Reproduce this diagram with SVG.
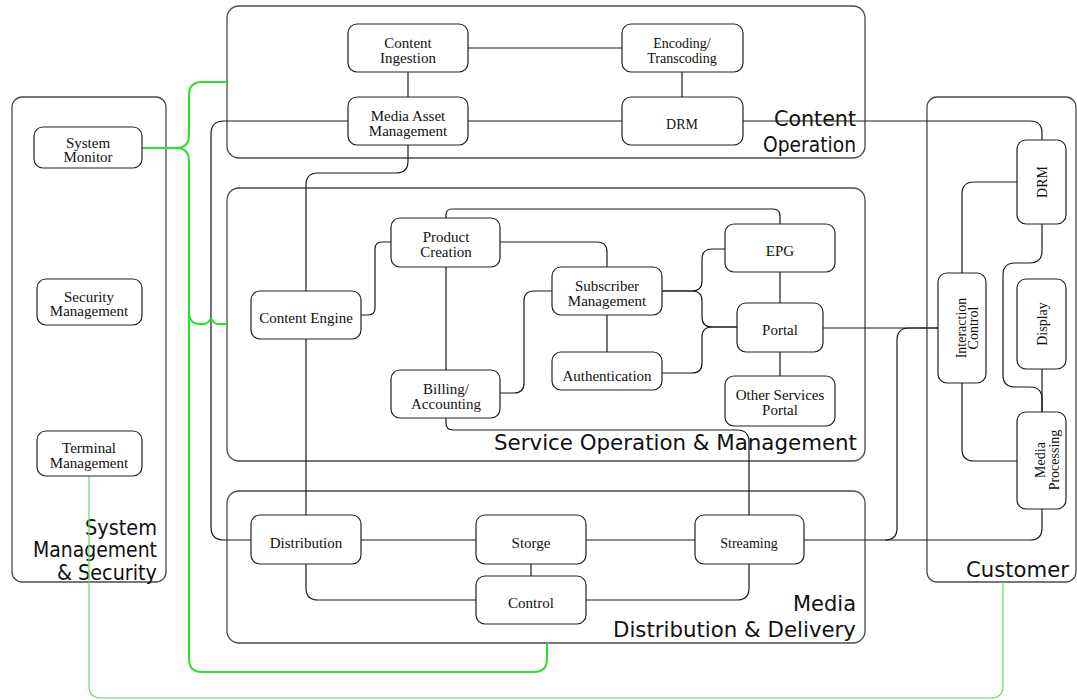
<svg xmlns="http://www.w3.org/2000/svg" width="1077" height="700" viewBox="0 0 1077 700">
  <style>
    .area { fill: none; stroke: #4a4a4a; stroke-width: 1.3; }
    .box { fill: none; stroke: #222; stroke-width: 1.2; }
    .lbl { font-family: "Liberation Serif", "Times New Roman", serif; font-size: 15px; fill: #111; text-anchor: middle; }
    .small { font-size: 14px; }
    .title { font-family: "DejaVu Sans", Verdana, sans-serif; font-size: 21px; fill: #111; text-anchor: end; }
    .link { fill: none; stroke: #1a1a1a; stroke-width: 1.2; }
    .mgmt { fill: none; stroke: #2ee02e; stroke-width: 2; }
    .mgmt-thin { fill: none; stroke: #5ee05e; stroke-width: 1.2; }
  </style>

  <rect width="1077" height="700" fill="#ffffff"/>

  <!-- domain areas -->
  <g id="area-system">
    <rect class="area" x="12" y="97" width="154" height="485" rx="10"/>
    <text class="title" font-size="19" x="157" y="535" textLength="72" lengthAdjust="spacingAndGlyphs">System</text>
    <text class="title" font-size="19" x="157" y="557" textLength="124" lengthAdjust="spacingAndGlyphs">Management</text>
    <text class="title" font-size="19" x="157" y="580" textLength="100" lengthAdjust="spacingAndGlyphs">&amp; Security</text>
  </g>
  <g id="area-content">
    <rect class="area" x="227" y="6" width="638" height="152" rx="12"/>
    <text class="title" font-size="20" x="856" y="126" textLength="82" lengthAdjust="spacingAndGlyphs">Content</text>
    <text class="title" font-size="20" x="856" y="152" textLength="93" lengthAdjust="spacingAndGlyphs">Operation</text>
  </g>
  <g id="area-service">
    <rect class="area" x="227" y="188" width="638" height="273" rx="12"/>
    <text class="title" x="857" y="450" textLength="363" lengthAdjust="spacingAndGlyphs">Service Operation &amp; Management</text>
  </g>
  <g id="area-media">
    <rect class="area" x="227" y="491" width="638" height="152" rx="12"/>
    <text class="title" x="856" y="611" textLength="63" lengthAdjust="spacingAndGlyphs">Media</text>
    <text class="title" x="856" y="637" textLength="243" lengthAdjust="spacingAndGlyphs">Distribution &amp; Delivery</text>
  </g>
  <g id="area-customer">
    <rect class="area" x="927" y="97" width="149" height="485" rx="10"/>
    <text class="title" x="1069" y="577" textLength="103" lengthAdjust="spacingAndGlyphs">Customer</text>
  </g>

  <!-- connectors -->
  <g id="connectors">
    <!-- content operation -->
    <path class="link" d="M468,48 H622"/>
    <path class="link" d="M408,72 V97"/>
    <path class="link" d="M682,72 V97"/>
    <path class="link" d="M468,121 H622"/>
    <path class="link" d="M348,121 H224 Q211,121 211,134 V527 Q211,540 224,540 H251"/>
    <path class="link" d="M743,121 H1030 Q1042,121 1042,133 V140"/>
    <path class="link" d="M408,145 V161 Q408,173 396,173 H318 Q306,173 306,185 V291"/>
    <!-- service operation -->
    <path class="link" d="M306,339 V515"/>
    <path class="link" d="M361,315 H368 Q375,315 375,308 V249 Q375,242 382,242 H391"/>
    <path class="link" d="M446,267 V370"/>
    <path class="link" d="M446,218 V215 Q446,209 452,209 H773 Q780,209 780,216 V224"/>
    <path class="link" d="M500,242 H597 Q607,242 607,252 V267"/>
    <path class="link" d="M500,393 H514 Q524,393 524,383 V301 Q524,291 534,291 H552"/>
    <path class="link" d="M607,315 V352"/>
    <path class="link" d="M662,291 H692 Q702,291 702,281 V259 Q702,249 712,249 H725"/>
    <path class="link" d="M662,291 H692 Q702,291 702,301 V317 Q702,327 712,327 H737"/>
    <path class="link" d="M662,373 H692 Q702,373 702,363 V337 Q702,327 712,327 H737"/>
    <path class="link" d="M780,272 V303"/>
    <path class="link" d="M780,352 V376"/>
    <path class="link" d="M823,328 H938"/>
    <path class="link" d="M446,418 V423 Q446,430 453,430 H737 Q749,430 749,442 V515"/>
    <!-- media distribution -->
    <path class="link" d="M361,540 H476"/>
    <path class="link" d="M586,540 H695"/>
    <path class="link" d="M531,564 V576"/>
    <path class="link" d="M306,564 V588 Q306,600 318,600 H476"/>
    <path class="link" d="M586,600 H737 Q749,600 749,588 V564"/>
    <path class="link" d="M804,540 H1030 Q1042,540 1042,528 V509"/>
    <path class="link" d="M885,540 Q897,540 897,528 V340 Q897,328 909,328 H938"/>
    <!-- customer -->
    <path class="link" d="M962,273 V194 Q962,182 974,182 H1017"/>
    <path class="link" d="M962,383 V449 Q962,461 974,461 H1017"/>
    <path class="link" d="M1042,224 V251 Q1042,263 1030,263 H1015 Q1003,263 1003,275 V375 Q1003,387 1015,387 H1030 Q1042,387 1042,399 V412"/>
    <path class="link" d="M1042,369 V412"/>
    <!-- management links -->
    <path class="mgmt" d="M142,148 H176 Q189,148 189,135 V95 Q189,82 202,82 H227"/>
    <path class="mgmt" d="M176,148 Q189,148 189,161 V659 Q189,672 202,672 H534 Q547,672 547,659 V643"/>
    <path class="mgmt" d="M189,312 Q189,324 200,324 H204 Q207,324 209,321 Q211,318 213,321 Q215,324 218,324 H227"/>
    <path class="mgmt-thin" d="M89,476 V686 Q89,698 101,698 H991 Q1003,698 1003,686 V582"/>
  </g>

  <!-- system management & security -->
  <g id="system-monitor">
    <rect class="box" x="34" y="127" width="108" height="41" rx="9"/>
    <text class="lbl" x="88" y="148">System</text>
    <text class="lbl" x="88" y="162">Monitor</text>
  </g>
  <g id="security-management">
    <rect class="box" x="37" y="279" width="105" height="46" rx="9"/>
    <text class="lbl" x="89" y="302">Security</text>
    <text class="lbl" x="89" y="316">Management</text>
  </g>
  <g id="terminal-management">
    <rect class="box" x="37" y="431" width="105" height="45" rx="9"/>
    <text class="lbl" x="89" y="453">Terminal</text>
    <text class="lbl" x="89" y="468">Management</text>
  </g>

  <!-- content operation -->
  <g id="content-ingestion">
    <rect class="box" x="348" y="24" width="120" height="48" rx="9"/>
    <text class="lbl" x="408" y="48">Content</text>
    <text class="lbl" x="408" y="63">Ingestion</text>
  </g>
  <g id="encoding-transcoding">
    <rect class="box" x="622" y="24" width="121" height="48" rx="9"/>
    <text class="lbl small" x="682" y="48">Encoding/</text>
    <text class="lbl small" x="682" y="63">Transcoding</text>
  </g>
  <g id="media-asset-management">
    <rect class="box" x="348" y="97" width="120" height="48" rx="9"/>
    <text class="lbl" x="408" y="121">Media Asset</text>
    <text class="lbl" x="408" y="136">Management</text>
  </g>
  <g id="drm-content">
    <rect class="box" x="622" y="97" width="121" height="48" rx="9"/>
    <text class="lbl small" x="682" y="129">DRM</text>
  </g>

  <!-- service operation & management -->
  <g id="content-engine">
    <rect class="box" x="251" y="291" width="110" height="48" rx="9"/>
    <text class="lbl" x="306" y="323">Content Engine</text>
  </g>
  <g id="product-creation">
    <rect class="box" x="391" y="218" width="109" height="49" rx="9"/>
    <text class="lbl" x="446" y="242">Product</text>
    <text class="lbl" x="446" y="257">Creation</text>
  </g>
  <g id="billing-accounting">
    <rect class="box" x="391" y="370" width="109" height="48" rx="9"/>
    <text class="lbl" x="446" y="394">Billing/</text>
    <text class="lbl" x="446" y="409">Accounting</text>
  </g>
  <g id="subscriber-management">
    <rect class="box" x="552" y="267" width="110" height="48" rx="9"/>
    <text class="lbl" x="607" y="291">Subscriber</text>
    <text class="lbl" x="607" y="306">Management</text>
  </g>
  <g id="authentication">
    <rect class="box" x="552" y="352" width="110" height="38" rx="9"/>
    <text class="lbl" x="607" y="381">Authentication</text>
  </g>
  <g id="epg">
    <rect class="box" x="725" y="224" width="110" height="48" rx="9"/>
    <text class="lbl" x="780" y="256">EPG</text>
  </g>
  <g id="portal">
    <rect class="box" x="737" y="303" width="86" height="49" rx="9"/>
    <text class="lbl" x="780" y="335">Portal</text>
  </g>
  <g id="other-services-portal">
    <rect class="box" x="725" y="376" width="110" height="50" rx="9"/>
    <text class="lbl" x="780" y="400">Other Services</text>
    <text class="lbl" x="780" y="415">Portal</text>
  </g>

  <!-- media distribution & delivery -->
  <g id="distribution">
    <rect class="box" x="251" y="515" width="110" height="49" rx="9"/>
    <text class="lbl" x="306" y="548">Distribution</text>
  </g>
  <g id="storge">
    <rect class="box" x="476" y="515" width="110" height="49" rx="9"/>
    <text class="lbl" x="531" y="548">Storge</text>
  </g>
  <g id="control">
    <rect class="box" x="476" y="576" width="110" height="48" rx="9"/>
    <text class="lbl" x="531" y="608">Control</text>
  </g>
  <g id="streaming">
    <rect class="box" x="695" y="515" width="109" height="49" rx="9"/>
    <text class="lbl small" x="749" y="548">Streaming</text>
  </g>

  <!-- customer -->
  <g id="interaction-control">
    <rect class="box" x="938" y="273" width="48" height="110" rx="9"/>
    <g transform="translate(962,328) rotate(-90)">
      <text class="lbl small" x="0" y="4">Interaction</text>
      <text class="lbl small" x="0" y="16">Control</text>
    </g>
  </g>
  <g id="drm-customer">
    <rect class="box" x="1017" y="140" width="49" height="84" rx="9"/>
    <text class="lbl small" transform="translate(1041.5,182) rotate(-90)" x="0" y="5">DRM</text>
  </g>
  <g id="display">
    <rect class="box" x="1017" y="279" width="49" height="90" rx="9"/>
    <text class="lbl small" transform="translate(1041.5,324) rotate(-90)" x="0" y="5">Display</text>
  </g>
  <g id="media-processing">
    <rect class="box" x="1017" y="412" width="49" height="97" rx="9"/>
    <g transform="translate(1041.5,460) rotate(-90)">
      <text class="lbl small" x="0" y="3">Media</text>
      <text class="lbl small" x="0" y="17">Processing</text>
    </g>
  </g>
</svg>
